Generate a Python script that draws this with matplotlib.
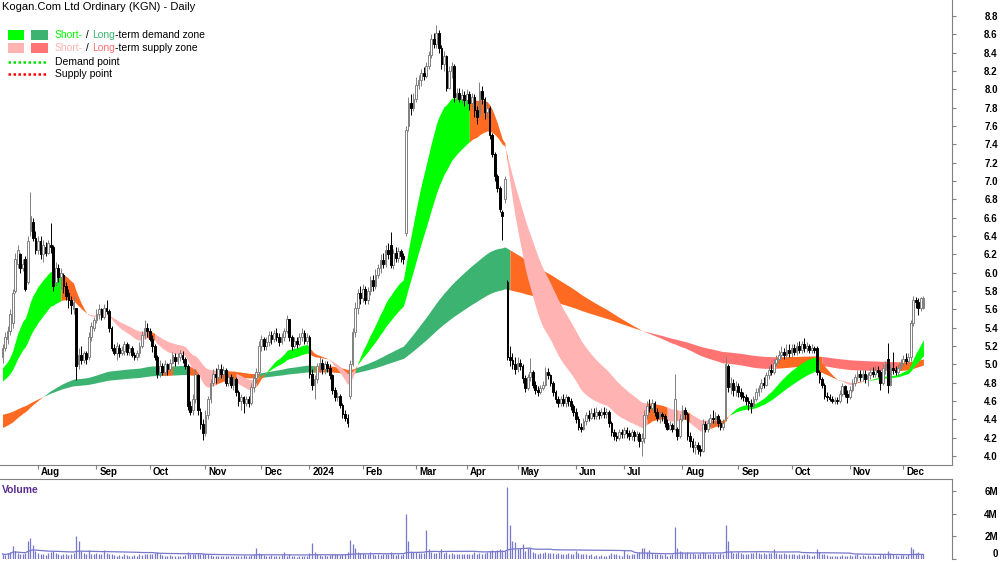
import numpy as np
import pandas as pd
import matplotlib
matplotlib.use('Agg')
import matplotlib.pyplot as plt
import matplotlib.transforms as mtransforms
from matplotlib.patches import Rectangle
from matplotlib.lines import Line2D

plt.rcParams['font.family'] = ['Liberation Sans', 'DejaVu Sans']

# daily bars, 12 Jul 2023 .. 12 Dec 2024 (one line per month)
opens = [
    5.08, 5.18, 5.28, 5.36, 5.45, 5.80, 6.10, 6.20, 6.05, 6.15, 5.90, 6.45, 6.55, 6.38,
    6.25, 6.35, 6.20, 6.28, 6.22, 6.30, 6.28, 5.90, 6.05, 5.95, 5.98, 5.85, 5.78, 5.70, 5.60, 5.62, 5.00, 5.10, 5.05, 5.12, 5.08, 5.30, 5.40,
    5.48, 5.55, 5.60, 5.52, 5.62, 5.58, 5.40, 5.18, 5.12, 5.18, 5.12, 5.15, 5.22, 5.14, 5.18, 5.10, 5.08, 5.12, 5.20, 5.32, 5.40,
    5.36, 5.28, 5.20, 5.08, 4.92, 4.98, 4.92, 5.00, 4.95, 5.02, 5.08, 5.04, 5.08, 5.10, 5.06, 4.98, 4.55, 4.50, 4.62, 4.88, 4.48, 4.35,
    4.25, 4.45, 4.62, 4.80, 4.90, 4.86, 4.95, 4.90, 4.94, 4.80, 4.86, 4.78, 4.84, 4.70, 4.60, 4.64, 4.58, 4.62, 4.58, 4.75, 4.85, 4.92,
    5.20, 5.28, 5.20, 5.24, 5.32, 5.28, 5.34, 5.30, 5.24, 5.30, 5.36, 5.50, 5.30, 5.20, 5.26, 5.22, 5.30, 5.34, 5.26,
    5.30, 4.90, 4.78, 4.84, 4.98, 5.02, 4.95, 5.00, 4.96, 4.88, 4.72, 4.64, 4.66, 4.56, 4.46, 4.42, 4.65, 5.00, 5.35, 5.62, 5.78,
    5.72, 5.82, 5.70, 5.80, 5.92, 5.86, 5.98, 6.05, 6.14, 6.10, 6.25, 6.30, 6.08, 6.22, 6.16, 6.24, 6.18, 6.43, 7.60, 7.85, 7.80,
    7.90, 8.05, 8.10, 8.18, 8.15, 8.26, 8.38, 8.55, 8.50, 8.62, 8.45, 8.28, 8.36, 8.02, 8.20, 8.25, 7.92, 7.96, 7.90, 7.94,
    7.88, 7.95, 7.85, 7.92, 7.78, 7.72, 7.98, 7.90, 7.75, 7.80, 7.50, 7.30, 7.05, 6.92, 6.66, 6.80, 5.90, 5.08, 5.05, 5.00,
    4.95, 5.02, 4.98, 4.85, 4.74, 4.86, 4.92, 4.78, 4.72, 4.70, 4.74, 4.78, 4.92, 4.88, 4.80, 4.70, 4.62, 4.58, 4.62, 4.58, 4.64, 4.60, 4.55,
    4.48, 4.40, 4.32, 4.30, 4.38, 4.45, 4.42, 4.47, 4.44, 4.48, 4.45, 4.48, 4.46, 4.48, 4.36, 4.26, 4.22, 4.20, 4.26,
    4.24, 4.28, 4.25, 4.22, 4.26, 4.22, 4.24, 4.16, 4.20, 4.45, 4.55, 4.52, 4.58, 4.48, 4.42, 4.46, 4.44, 4.36, 4.30, 4.34, 4.30, 4.30, 4.22,
    4.40, 4.50, 4.46, 4.22, 4.16, 4.10, 4.12, 4.08, 4.06, 4.35, 4.30, 4.36, 4.42, 4.40, 4.44, 4.36, 4.32, 4.40, 4.98, 4.75, 4.80, 4.72,
    4.76, 4.70, 4.66, 4.64, 4.60, 4.58, 4.55, 4.62, 4.70, 4.74, 4.80, 4.78, 4.88, 4.94, 4.92, 5.02, 5.06, 5.10, 5.14, 5.10, 5.16,
    5.12, 5.18, 5.14, 5.20, 5.16, 5.22, 5.18, 5.20, 5.16, 5.18, 5.18, 4.92, 4.84, 4.78, 4.66, 4.64, 4.62, 4.60, 4.61, 4.60, 4.68, 4.76, 4.68,
    4.64, 4.72, 4.80, 4.86, 4.90, 4.86, 4.90, 4.84, 4.88, 4.92, 4.90, 4.94, 4.92, 4.80, 4.96, 5.06, 4.78, 4.96, 4.94, 4.92, 4.96,
    5.02, 5.06, 5.04, 5.08, 5.45, 5.70, 5.68, 5.62, 5.62,
]
highs = [
    5.22, 5.35, 5.42, 5.60, 5.82, 6.22, 6.30, 6.22, 6.15, 6.18, 6.40, 6.88, 6.60, 6.45,
    6.40, 6.40, 6.36, 6.33, 6.36, 6.54, 6.30, 6.12, 6.10, 6.05, 6.00, 5.90, 5.82, 5.75, 5.75, 5.62, 5.18, 5.20, 5.15, 5.15, 5.35, 5.46, 5.52,
    5.60, 5.66, 5.62, 5.66, 5.70, 5.60, 5.42, 5.22, 5.24, 5.22, 5.20, 5.26, 5.24, 5.22, 5.20, 5.14, 5.16, 5.24, 5.36, 5.48, 5.45,
    5.40, 5.32, 5.22, 5.10, 5.05, 5.02, 5.05, 5.02, 5.06, 5.14, 5.12, 5.12, 5.16, 5.15, 5.08, 5.00, 4.60, 4.68, 4.95, 4.90, 4.52, 4.40,
    4.50, 4.66, 4.84, 4.95, 4.96, 5.00, 5.00, 4.98, 4.96, 4.90, 4.90, 4.88, 4.86, 4.72, 4.68, 4.66, 4.66, 4.66, 4.80, 4.90, 4.96, 5.25,
    5.32, 5.30, 5.30, 5.36, 5.36, 5.38, 5.40, 5.34, 5.34, 5.40, 5.54, 5.50, 5.32, 5.30, 5.30, 5.34, 5.40, 5.38, 5.34,
    5.32, 4.95, 4.88, 5.02, 5.08, 5.06, 5.04, 5.04, 5.00, 4.90, 4.75, 4.70, 4.68, 4.58, 4.50, 4.46, 5.05, 5.40, 5.68, 5.82, 5.85,
    5.88, 5.86, 5.84, 5.96, 5.98, 6.04, 6.10, 6.20, 6.22, 6.30, 6.32, 6.44, 6.26, 6.28, 6.28, 6.26, 6.22, 7.60, 7.92, 7.95, 7.96,
    8.13, 8.16, 8.22, 8.24, 8.30, 8.42, 8.60, 8.62, 8.70, 8.65, 8.48, 8.42, 8.38, 8.26, 8.30, 8.28, 8.02, 8.02, 8.00, 7.98,
    8.00, 7.98, 7.96, 7.95, 7.82, 8.08, 8.04, 7.92, 7.86, 7.82, 7.52, 7.32, 7.08, 6.95, 6.68, 7.05, 5.92, 5.20, 5.12, 5.08,
    5.08, 5.06, 5.00, 4.88, 4.90, 5.07, 4.94, 4.82, 4.76, 4.78, 4.82, 4.97, 4.96, 4.90, 4.82, 4.72, 4.66, 4.66, 4.68, 4.68, 4.66, 4.63, 4.57,
    4.52, 4.44, 4.36, 4.42, 4.48, 4.50, 4.52, 4.52, 4.53, 4.50, 4.52, 4.53, 4.52, 4.50, 4.38, 4.30, 4.26, 4.30, 4.30,
    4.32, 4.32, 4.28, 4.30, 4.28, 4.27, 4.26, 4.25, 4.50, 4.60, 4.62, 4.62, 4.60, 4.52, 4.50, 4.48, 4.46, 4.40, 4.38, 4.36, 4.90, 4.32, 4.46,
    4.56, 4.54, 4.48, 4.26, 4.20, 4.16, 4.15, 4.12, 4.40, 4.38, 4.40, 4.46, 4.50, 4.48, 4.46, 4.40, 4.40, 5.08, 5.00, 4.86, 4.84, 4.82,
    4.80, 4.74, 4.70, 4.68, 4.64, 4.62, 4.66, 4.74, 4.78, 4.84, 4.86, 4.92, 4.98, 5.00, 5.06, 5.10, 5.16, 5.20, 5.18, 5.22, 5.22,
    5.22, 5.22, 5.24, 5.26, 5.26, 5.29, 5.24, 5.22, 5.22, 5.20, 5.20, 4.94, 4.86, 4.80, 4.70, 4.68, 4.66, 4.64, 4.64, 4.72, 4.80, 4.78, 4.72,
    4.76, 4.84, 4.90, 4.94, 4.94, 4.94, 4.94, 4.92, 4.96, 4.97, 4.98, 4.98, 4.94, 5.00, 5.04, 5.23, 5.00, 5.14, 4.98, 5.00, 5.06,
    5.10, 5.12, 5.12, 5.48, 5.75, 5.74, 5.72, 5.74, 5.75,
]
lows = [
    5.02, 5.15, 5.22, 5.32, 5.40, 5.78, 6.05, 6.00, 6.02, 5.80, 5.88, 6.40, 6.35, 6.20,
    6.20, 6.15, 6.12, 6.18, 6.20, 6.22, 5.80, 5.85, 5.90, 5.82, 5.78, 5.70, 5.62, 5.55, 5.55, 4.83, 4.95, 5.00, 5.02, 5.00, 5.05, 5.26, 5.36,
    5.45, 5.50, 5.48, 5.50, 5.55, 5.35, 5.15, 5.10, 5.05, 5.08, 5.10, 5.10, 5.10, 5.10, 5.08, 5.05, 5.05, 5.08, 5.18, 5.28, 5.30,
    5.25, 5.14, 5.05, 4.85, 4.86, 4.88, 4.88, 4.88, 4.92, 5.00, 4.98, 5.00, 5.04, 5.02, 4.95, 4.50, 4.45, 4.45, 4.58, 4.45, 4.30, 4.17,
    4.22, 4.40, 4.58, 4.76, 4.80, 4.82, 4.85, 4.84, 4.76, 4.76, 4.74, 4.72, 4.66, 4.55, 4.50, 4.47, 4.55, 4.54, 4.56, 4.70, 4.80, 4.88,
    5.15, 5.16, 5.16, 5.20, 5.22, 5.24, 5.26, 5.20, 5.22, 5.26, 5.34, 5.26, 5.16, 5.18, 5.18, 5.20, 5.26, 5.22, 5.22,
    4.85, 4.72, 4.62, 4.80, 4.92, 4.90, 4.90, 4.92, 4.84, 4.68, 4.60, 4.60, 4.52, 4.42, 4.38, 4.32, 4.62, 4.98, 5.30, 5.55, 5.66,
    5.68, 5.66, 5.66, 5.76, 5.80, 5.82, 5.94, 6.00, 6.05, 6.06, 6.15, 6.05, 6.04, 6.12, 6.12, 6.12, 6.10, 6.40, 7.55, 7.72, 7.76,
    7.86, 8.00, 8.04, 8.10, 8.12, 8.22, 8.34, 8.45, 8.45, 8.40, 8.22, 8.20, 7.98, 8.00, 8.12, 7.86, 7.88, 7.86, 7.84, 7.82,
    7.84, 7.78, 7.80, 7.70, 7.62, 7.70, 7.84, 7.68, 7.70, 7.46, 7.26, 7.00, 6.88, 6.66, 6.36, 6.76, 5.05, 4.98, 4.95, 4.90,
    4.92, 4.94, 4.80, 4.70, 4.72, 4.82, 4.74, 4.68, 4.66, 4.68, 4.72, 4.76, 4.84, 4.76, 4.66, 4.58, 4.54, 4.55, 4.55, 4.54, 4.55, 4.50, 4.44,
    4.36, 4.28, 4.26, 4.28, 4.34, 4.38, 4.40, 4.40, 4.40, 4.40, 4.42, 4.42, 4.42, 4.32, 4.22, 4.18, 4.16, 4.17, 4.20,
    4.20, 4.20, 4.18, 4.18, 4.16, 4.18, 4.10, 4.00, 4.14, 4.40, 4.48, 4.48, 4.44, 4.38, 4.36, 4.38, 4.32, 4.28, 4.28, 4.26, 4.28, 4.18, 4.20,
    4.38, 4.40, 4.18, 4.10, 4.04, 4.02, 4.02, 4.00, 4.04, 4.26, 4.26, 4.32, 4.36, 4.34, 4.32, 4.28, 4.28, 4.38, 4.70, 4.68, 4.66, 4.66,
    4.64, 4.62, 4.60, 4.56, 4.50, 4.47, 4.52, 4.60, 4.66, 4.70, 4.74, 4.76, 4.84, 4.88, 4.90, 4.98, 5.02, 5.06, 5.06, 5.08, 5.08,
    5.08, 5.10, 5.10, 5.12, 5.12, 5.14, 5.14, 5.12, 5.12, 5.12, 4.88, 4.80, 4.74, 4.62, 4.60, 4.60, 4.58, 4.57, 4.57, 4.58, 4.66, 4.64, 4.58,
    4.62, 4.70, 4.76, 4.82, 4.82, 4.82, 4.80, 4.76, 4.84, 4.86, 4.86, 4.86, 4.72, 4.78, 4.90, 4.69, 4.76, 4.90, 4.88, 4.88, 4.94,
    4.98, 5.00, 5.02, 5.04, 5.42, 5.62, 5.54, 5.58, 5.60,
]
closes = [
    5.18, 5.30, 5.36, 5.55, 5.78, 6.15, 6.25, 6.05, 6.10, 5.82, 6.35, 6.62, 6.38, 6.25,
    6.35, 6.20, 6.30, 6.22, 6.32, 6.28, 5.85, 6.05, 5.95, 6.00, 5.85, 5.75, 5.70, 5.65, 5.68, 4.98, 5.10, 5.05, 5.12, 5.06, 5.30, 5.42, 5.48,
    5.55, 5.60, 5.52, 5.62, 5.58, 5.40, 5.18, 5.12, 5.20, 5.12, 5.16, 5.22, 5.14, 5.18, 5.10, 5.08, 5.12, 5.20, 5.32, 5.40, 5.36,
    5.28, 5.20, 5.08, 4.90, 4.98, 4.92, 5.00, 4.95, 5.02, 5.10, 5.04, 5.08, 5.12, 5.06, 4.98, 4.55, 4.48, 4.62, 4.90, 4.50, 4.35, 4.25,
    4.45, 4.62, 4.80, 4.90, 4.86, 4.95, 4.90, 4.94, 4.80, 4.86, 4.78, 4.84, 4.70, 4.60, 4.64, 4.58, 4.62, 4.58, 4.75, 4.85, 4.92, 5.20,
    5.28, 5.20, 5.24, 5.32, 5.28, 5.34, 5.30, 5.24, 5.30, 5.36, 5.50, 5.30, 5.20, 5.26, 5.22, 5.30, 5.34, 5.26, 5.30,
    4.90, 4.78, 4.84, 4.98, 5.02, 4.95, 5.00, 4.96, 4.88, 4.72, 4.64, 4.66, 4.56, 4.46, 4.42, 4.36, 5.00, 5.35, 5.62, 5.78, 5.72,
    5.82, 5.70, 5.80, 5.92, 5.86, 5.98, 6.05, 6.14, 6.10, 6.25, 6.20, 6.08, 6.22, 6.16, 6.24, 6.18, 6.15, 7.56, 7.85, 7.80, 7.90,
    8.05, 8.10, 8.18, 8.15, 8.26, 8.38, 8.55, 8.50, 8.62, 8.45, 8.28, 8.36, 8.02, 8.20, 8.25, 7.92, 7.96, 7.90, 7.94, 7.88,
    7.95, 7.85, 7.92, 7.78, 7.70, 7.98, 7.90, 7.75, 7.80, 7.50, 7.30, 7.05, 6.92, 6.70, 6.62, 7.02, 5.08, 5.05, 5.00, 4.95,
    5.02, 4.98, 4.85, 4.74, 4.86, 4.92, 4.78, 4.72, 4.70, 4.74, 4.78, 4.92, 4.88, 4.80, 4.70, 4.62, 4.58, 4.62, 4.58, 4.64, 4.60, 4.55, 4.48,
    4.40, 4.32, 4.30, 4.38, 4.45, 4.42, 4.47, 4.44, 4.48, 4.45, 4.48, 4.46, 4.48, 4.36, 4.26, 4.22, 4.20, 4.26, 4.24,
    4.28, 4.25, 4.22, 4.26, 4.22, 4.24, 4.16, 4.20, 4.45, 4.55, 4.52, 4.58, 4.48, 4.42, 4.46, 4.44, 4.36, 4.30, 4.34, 4.30, 4.62, 4.22, 4.40,
    4.50, 4.46, 4.22, 4.16, 4.10, 4.12, 4.08, 4.06, 4.35, 4.30, 4.36, 4.42, 4.40, 4.44, 4.36, 4.32, 4.36, 5.00, 4.75, 4.80, 4.72, 4.76,
    4.70, 4.66, 4.64, 4.60, 4.58, 4.55, 4.62, 4.70, 4.74, 4.80, 4.78, 4.88, 4.94, 4.92, 5.02, 5.06, 5.10, 5.14, 5.10, 5.16, 5.12,
    5.18, 5.14, 5.20, 5.16, 5.22, 5.18, 5.20, 5.16, 5.18, 5.16, 4.92, 4.84, 4.78, 4.66, 4.64, 4.62, 4.60, 4.61, 4.60, 4.68, 4.76, 4.68, 4.64,
    4.72, 4.80, 4.86, 4.90, 4.86, 4.90, 4.84, 4.88, 4.92, 4.90, 4.94, 4.92, 4.80, 4.96, 5.00, 4.78, 4.96, 4.94, 4.92, 4.96, 5.02,
    5.06, 5.04, 5.08, 5.45, 5.70, 5.68, 5.62, 5.72, 5.72,
]
# volume in millions of shares
volume_m = [
    0.45, 0.35, 0.5, 0.6, 1.15, 0.7, 0.5, 0.45, 0.4, 0.55, 1.6, 1.86, 1.24, 0.7,
    0.5, 0.45, 0.4, 0.35, 0.5, 0.6, 0.75, 0.5, 0.4, 0.35, 0.4, 0.45, 0.35, 0.4, 0.5, 2.0, 1.6, 0.7, 0.5, 0.45, 0.8, 0.45, 0.4,
    0.5, 0.45, 0.4, 0.8, 0.5, 0.45, 0.4, 0.35, 0.3, 0.35, 0.3, 0.4, 0.35, 0.3, 0.3, 0.35, 0.3, 0.4, 0.35, 0.45, 0.4,
    0.4, 0.45, 0.5, 0.6, 0.4, 0.35, 0.3, 0.3, 0.35, 0.3, 0.3, 0.25, 0.3, 0.3, 0.35, 0.6, 0.4, 0.45, 0.4, 0.5, 0.45, 0.55,
    0.45, 0.4, 0.35, 0.3, 0.3, 0.25, 0.3, 0.3, 0.25, 0.3, 0.25, 0.3, 0.3, 0.25, 0.3, 0.35, 0.3, 0.3, 0.35, 0.4, 0.97, 0.5,
    0.4, 0.35, 0.3, 0.3, 0.35, 0.3, 0.25, 0.3, 0.35, 0.6, 0.3, 0.4, 0.3, 0.25, 0.2, 0.3, 0.25, 0.25, 0.3,
    0.5, 1.4, 0.6, 0.4, 0.35, 0.3, 0.35, 0.3, 0.35, 0.4, 0.45, 0.4, 0.35, 0.4, 0.45, 0.6, 1.7, 1.3, 0.97, 0.6, 0.5,
    0.5, 0.4, 0.45, 0.6, 0.4, 0.35, 0.4, 0.35, 0.4, 0.45, 0.4, 0.6, 0.4, 0.35, 0.4, 0.35, 0.45, 4.0, 1.6, 0.7, 0.6,
    0.6, 0.5, 0.55, 0.5, 2.6, 0.9, 0.6, 0.5, 0.55, 0.6, 0.9, 0.5, 0.6, 0.45, 0.5, 0.45, 0.4, 0.45, 0.4, 0.4,
    0.45, 0.4, 0.45, 0.6, 0.45, 0.5, 0.45, 0.5, 0.6, 0.7, 0.8, 0.7, 0.8, 0.9, 0.8, 0.75, 6.4, 3.0, 1.6, 1.5,
    0.9, 1.0, 1.3, 0.7, 1.0, 1.0, 0.6, 0.5, 0.45, 0.5, 0.55, 0.6, 0.5, 0.55, 0.5, 0.45, 0.5, 0.4, 0.45, 0.4, 0.5, 0.45, 0.4,
    0.7, 0.5, 0.4, 0.45, 0.4, 0.35, 0.4, 0.3, 0.35, 0.3, 0.35, 0.3, 0.3, 0.35, 0.5, 0.4, 0.45, 0.35, 0.3,
    0.8, 0.4, 0.35, 0.4, 0.45, 0.5, 0.6, 1.0, 1.0, 0.6, 0.8, 0.5, 0.4, 0.45, 0.4, 0.35, 0.4, 0.3, 0.35, 0.4, 2.8, 1.0, 0.7,
    0.6, 0.5, 0.6, 0.55, 0.5, 0.45, 0.4, 0.5, 0.6, 0.5, 0.45, 0.4, 0.5, 0.45, 0.4, 0.5, 0.45, 3.0, 1.6, 0.7, 0.55, 0.5,
    0.6, 0.5, 0.45, 0.4, 0.45, 0.5, 0.55, 0.6, 0.5, 0.45, 0.5, 0.45, 0.5, 0.55, 0.9, 0.5, 0.45, 0.4, 0.5, 0.45, 0.4,
    0.45, 0.4, 0.35, 0.4, 0.35, 0.45, 0.4, 0.35, 0.3, 0.35, 0.9, 0.6, 0.45, 0.4, 0.35, 0.3, 0.25, 0.3, 0.25, 0.3, 0.35, 0.3, 0.3,
    0.35, 0.3, 0.35, 0.4, 0.3, 0.35, 0.3, 0.35, 0.3, 0.35, 0.3, 0.3, 0.45, 0.4, 0.35, 0.7, 0.5, 0.4, 0.35, 0.3, 0.35,
    0.35, 0.3, 0.4, 1.1, 0.9, 0.5, 0.6, 0.45, 0.4,
]
asx_holidays = ['2023-12-25', '2023-12-26', '2024-01-01', '2024-01-26',
                '2024-03-29', '2024-04-01', '2024-04-25', '2024-06-10']

# zone settings: (period, starting value at left edge)
short_fast, short_slow = (20, 4.94), (40, 4.80)
long_fast, long_slow = (150, 4.30), (250, 4.45)
slope_lookback = 4

n = len(closes)
assert len(opens) == n and len(highs) == n and len(lows) == n and len(volume_m) == n, \
    (len(opens), len(highs), len(lows), n, len(volume_m))

dates = pd.bdate_range('2023-07-12', periods=n, freq='C', holidays=asx_holidays)
x = np.arange(n)
o = np.array(opens); h = np.array(highs); l = np.array(lows); c = np.array(closes)
vol = np.array(volume_m) * 1e6


def ema(vals, period, seed):
    a = 2.0 / (period + 1)
    out = []
    e = seed
    for v in vals:
        e = e + a * (v - e)
        out.append(e)
    return np.array(out), seed


GREEN, DKGREEN = '#00FF00', '#3CB371'
PINK, SALMON = '#FFB3B3', '#FF7373'
ORANGE = '#FF6A22'


def draw_zone(ax, fast_cfg, slow_cfg, demand_col, supply_col, z):
    fast, f0 = ema(c, *fast_cfg)
    slow, _ = ema(c, *slow_cfg)
    hist = np.concatenate([[f0] * slope_lookback, fast])
    rising = fast >= hist[:n]
    cls = np.where((fast > slow) & rising, 0, np.where((fast < slow) & ~rising, 1, 2))
    cols = [demand_col, supply_col, ORANGE]
    s = 0
    for i in range(1, n + 1):
        if i == n or cls[i] != cls[s]:
            e = min(i, n - 1)
            ax.fill_between(x[s:e + 1], fast[s:e + 1], slow[s:e + 1],
                            color=cols[cls[s]], lw=0, zorder=z)
            s = i


W, H = 1000, 562
fig = plt.figure(figsize=(10, 5.62), dpi=100)
ax = fig.add_axes([0, (H - 465) / H, 952 / W, 465 / H])
axv = fig.add_axes([0, 3 / H, 952 / W, 80 / H])

px_per_bar = 2.537
x0 = -2.5 / px_per_bar
x1 = x0 + 952 / px_per_bar
ax.set_xlim(x0, x1)
axv.set_xlim(x0, x1)
ax.set_ylim(3.902, 8.975)
axv.set_ylim(0, 7.08e6)

draw_zone(ax, long_fast, long_slow, DKGREEN, SALMON, 1)
draw_zone(ax, short_fast, short_slow, GREEN, PINK, 2)

# candles
up = c >= o
wick_col = np.where(up, '#808080', 'black')
ax.vlines(x, l, h, colors=wick_col, lw=0.7, zorder=3)
body_lo = np.minimum(o, c)
body_h = np.maximum(np.abs(c - o), 0.008)
ax.bar(x[up], body_h[up], bottom=body_lo[up], width=0.68, facecolor='white',
       edgecolor='#808080', lw=0.7, zorder=4)
ax.bar(x[~up], body_h[~up], bottom=body_lo[~up], width=0.68, facecolor='black',
       edgecolor='black', lw=0.7, zorder=4)

# volume
VCOL = '#7777CC'
axv.vlines(x, 0, vol, colors=VCOL, lw=0.9)
axv.plot(x, pd.Series(vol).rolling(50, min_periods=1).mean(), color=VCOL, lw=0.9)

# axes styling
for a in (ax, axv):
    a.set_facecolor('white')
    a.spines['left'].set_visible(False)
    for s in ('right', 'top', 'bottom'):
        a.spines[s].set_color('#808080')
        a.spines[s].set_linewidth(0.8)
    a.yaxis.tick_right()
    a.tick_params(axis='y', direction='out', length=3, color='#808080', pad=30,
                  labelsize=7)
ax.spines['top'].set_visible(False)
axv.spines['bottom'].set_visible(False)

ax.set_yticks(np.round(np.arange(4.0, 8.81, 0.2), 1))
ax.set_yticklabels([f'{v:.1f}' for v in np.arange(4.0, 8.81, 0.2)])
axv.set_yticks([0, 2e6, 4e6, 6e6])
axv.set_yticklabels(['0', '2M', '4M', '6M'])
for a in (ax, axv):
    for t in a.get_yticklabels():
        t.set_ha('right')
        t.set_fontweight('bold')
# keep the zero label inside the picture
axv.get_yticklabels()[0].set_va('bottom')

# month ticks
month_pos, month_lab = [], []
for i in range(1, n):
    if dates[i].month != dates[i - 1].month:
        month_pos.append(i)
        month_lab.append(str(dates[i].year) if dates[i].month == 1 else dates[i].strftime('%b'))
ax.set_xticks(month_pos)
ax.tick_params(axis='x', direction='out', length=3, color='#808080', labelbottom=False)
axv.set_xticks([])
trans = mtransforms.offset_copy(mtransforms.blended_transform_factory(ax.transData, ax.transAxes),
                                fig=fig, x=3, y=-2, units='dots')
for p, lab in zip(month_pos, month_lab):
    ax.text(p, 0, lab, transform=trans, ha='left', va='top', fontsize=7,
            fontweight='bold', clip_on=False)

# title, legend
fs = 7.5
fig.text(2 / W, 1 - 7 / H, 'Kogan.Com Ltd Ordinary (KGN) - Daily', fontsize=8,
         va='center', ha='left')
fig.text(2 / W, 1 - 490 / H, 'Volume', fontsize=fs, fontweight='bold',
         color='#5A2D91', va='center', ha='left')


def box(x0p, y0p, x1p, y1p, col):
    fig.add_artist(Rectangle((x0p / W, 1 - y1p / H), (x1p - x0p) / W, (y1p - y0p) / H,
                             transform=fig.transFigure, color=col, lw=0))


box(8, 30, 24, 40, GREEN)
box(31, 30, 48, 40, DKGREEN)
box(8, 43, 24, 53, PINK)
box(31, 43, 48, 53, SALMON)
fig.add_artist(Line2D([8 / W, 46 / W], [1 - 62 / H] * 2, transform=fig.transFigure,
                      color='#00E000', lw=1.8, ls=(0, (1, 1))))
fig.add_artist(Line2D([8 / W, 46 / W], [1 - 74 / H] * 2, transform=fig.transFigure,
                      color='#FF0000', lw=1.8, ls=(0, (1, 1))))

renderer = fig.canvas.get_renderer()


def rich(xp, yp, parts):
    for s, col in parts:
        t = fig.text(xp / W, 1 - yp / H, s, color=col, fontsize=fs, va='center', ha='left')
        xp = t.get_window_extent(renderer=renderer).x1


rich(55, 35, [('Short-', GREEN), (' / ', 'black'), ('Long', DKGREEN),
              ('-term demand zone', 'black')])
rich(55, 48, [('Short-', PINK), (' / ', 'black'), ('Long', SALMON),
              ('-term supply zone', 'black')])
rich(55, 62, [('Demand point', 'black')])
rich(55, 74, [('Supply point', 'black')])

fig.savefig('out.png', dpi=100)
